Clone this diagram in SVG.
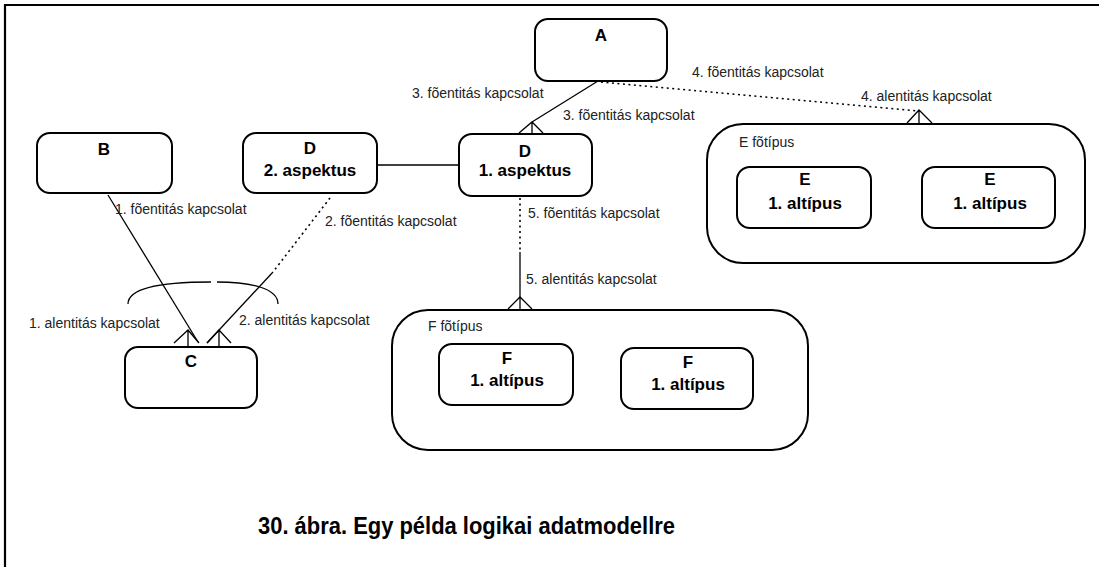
<svg xmlns="http://www.w3.org/2000/svg" width="1099" height="567" viewBox="0 0 1099 567">
  <style>
    .box { fill: #fff; stroke: #000; stroke-width: 2; }
    .cont { fill: #fff; stroke: #000; stroke-width: 2; }
    .name { font-family: "Liberation Sans", Arial, sans-serif; font-size: 17px; font-weight: bold; fill: #000; text-anchor: middle; }
    .lbl { font-family: "Liberation Sans", Arial, sans-serif; font-size: 14px; fill: #222; }
    .solid { fill: none; stroke: #000; stroke-width: 1.3; }
    .dot { fill: none; stroke: #000; stroke-width: 1.6; stroke-dasharray: 2 3.5; }
    .title { font-family: "Liberation Sans", Arial, sans-serif; font-size: 24px; font-weight: bold; fill: #000; }
  </style>

  <!-- page frame (top and left rules) -->
  <path d="M5,567 V5 H1099" fill="none" stroke="#000" stroke-width="2.2"/>

  <!-- containers -->
  <g id="E-fotipus">
    <rect class="cont" x="707" y="124" width="378" height="139" rx="36" ry="36"/>
    <text class="lbl" x="739" y="147">E fõtípus</text>
  </g>
  <g id="F-fotipus">
    <rect class="cont" x="392" y="310" width="416" height="140" rx="36" ry="36"/>
    <text class="lbl" x="428" y="331">F fõtípus</text>
  </g>

  <!-- entities -->
  <g id="A">
    <rect class="box" x="535" y="19" width="132" height="62" rx="13"/>
    <text class="name" x="601" y="41">A</text>
  </g>
  <g id="B">
    <rect class="box" x="37" y="133" width="135" height="60" rx="13"/>
    <text class="name" x="104" y="155">B</text>
  </g>
  <g id="D2">
    <rect class="box" x="243" y="133" width="134" height="60" rx="13"/>
    <text class="name" x="310" y="154">D</text>
    <text class="name" x="310" y="176">2. aspektus</text>
  </g>
  <g id="D1">
    <rect class="box" x="459" y="134" width="133" height="62" rx="13"/>
    <text class="name" x="525" y="157">D</text>
    <text class="name" x="525" y="176">1. aspektus</text>
  </g>
  <g id="C">
    <rect class="box" x="125" y="347" width="132" height="61" rx="13"/>
    <text class="name" x="191" y="367">C</text>
  </g>
  <g id="E1">
    <rect class="box" x="737" y="167" width="134" height="61" rx="13"/>
    <text class="name" x="805" y="185">E</text>
    <text class="name" x="805" y="209">1. altípus</text>
  </g>
  <g id="E2">
    <rect class="box" x="922" y="167" width="133" height="61" rx="13"/>
    <text class="name" x="990" y="185">E</text>
    <text class="name" x="990" y="209">1. altípus</text>
  </g>
  <g id="F1">
    <rect class="box" x="439" y="344" width="134" height="61" rx="13"/>
    <text class="name" x="507" y="364">F</text>
    <text class="name" x="507" y="386">1. altípus</text>
  </g>
  <g id="F2">
    <rect class="box" x="621" y="348" width="132" height="61" rx="13"/>
    <text class="name" x="688" y="368">F</text>
    <text class="name" x="688" y="390">1. altípus</text>
  </g>

  <!-- connectors -->
  <g id="connectors">
    <!-- D 2. aspektus - D 1. aspektus -->
    <line class="solid" x1="377" y1="165" x2="459" y2="165"/>

    <!-- A - D 1. aspektus (relationship 3) -->
    <line class="solid" x1="598" y1="81" x2="532" y2="122"/>
    <path class="solid" d="M532,122 V134 M519,133 L532,122 L543,133"/>

    <!-- A - E fotipus (relationship 4) -->
    <line class="dot" x1="601" y1="82" x2="918" y2="111"/>
    <path class="solid" d="M919,110 V124 M907,123 L919,110 L932,123"/>

    <!-- D 1. aspektus - F fotipus (relationship 5) -->
    <line class="dot" x1="520" y1="198" x2="520" y2="252"/>
    <line class="solid" x1="520" y1="252" x2="520" y2="297"/>
    <path class="solid" d="M520,297 V310 M508,309 L520,297 L532,309"/>

    <!-- B - C (relationship 1) -->
    <line class="solid" x1="108" y1="195" x2="198" y2="342"/>
    <path class="solid" d="M188,330 V347 M174,343 L188,330 L199,343"/>

    <!-- D 2. aspektus - C (relationship 2) -->
    <line class="dot" x1="330" y1="198" x2="273" y2="272"/>
    <line class="solid" x1="273" y1="272" x2="207" y2="343"/>
    <path class="solid" d="M219,330 V347 M207,343 L219,330 L231,343"/>

    <!-- exclusive-or arc over relationships 1 and 2 -->
    <path class="solid" d="M128,304 C128,288 160,282 211,282 M217,282 C250,282 278,288 278,304"/>
  </g>

  <!-- connector labels -->
  <g id="labels">
    <text class="lbl" x="115" y="214">1. fõentitás kapcsolat</text>
    <text class="lbl" x="325" y="226">2. fõentitás kapcsolat</text>
    <text class="lbl" x="29" y="328">1. alentitás kapcsolat</text>
    <text class="lbl" x="239" y="325">2. alentitás kapcsolat</text>
    <text class="lbl" x="412" y="98">3. fõentitás kapcsolat</text>
    <text class="lbl" x="563" y="120">3. fõentitás kapcsolat</text>
    <text class="lbl" x="692" y="77">4. fõentitás kapcsolat</text>
    <text class="lbl" x="861" y="101">4. alentitás kapcsolat</text>
    <text class="lbl" x="528" y="218">5. fõentitás kapcsolat</text>
    <text class="lbl" x="526" y="284">5. alentitás kapcsolat</text>
  </g>

  <text class="title" x="258" y="534" textLength="417" lengthAdjust="spacingAndGlyphs">30. ábra. Egy példa logikai adatmodellre</text>
</svg>
